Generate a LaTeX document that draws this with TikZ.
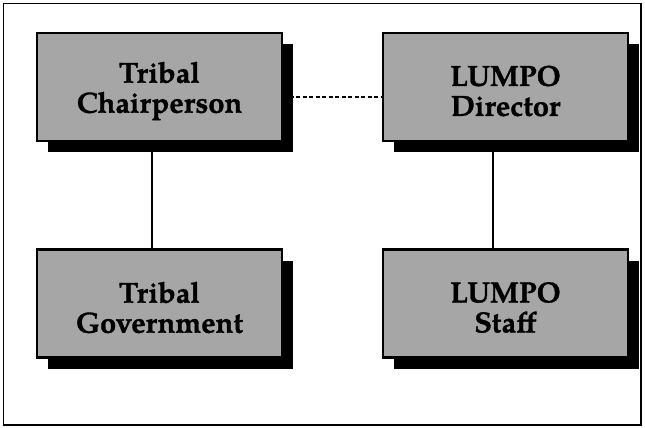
\documentclass[tikz,border=0pt]{standalone}
\usepackage{fontspec}
\setmainfont{texgyrepagella}[Extension=.otf, UprightFont=*-regular, BoldFont=*-bold,
  BoldFeatures={FakeBold=1.2}]
\usetikzlibrary{shadows}
\begin{document}
\begin{tikzpicture}[x=1pt,y=-1pt,
  orgbox/.style={draw=black, line width=2.5pt, fill=black!35,
    minimum width=245pt, minimum height=108pt, inner sep=0pt,
    drop shadow={shadow xshift=11pt, shadow yshift=-11pt, fill=black, opacity=1}},
  boxtext/.style={align=center, inner sep=0pt, yshift=-4pt,
    font=\bfseries\fontsize{29}{30}\selectfont},
  link/.style={line width=2pt},
  dotlink/.style={line width=2pt, dash pattern=on 4pt off 2.5pt}]
\useasboundingbox (0,0) rectangle (645,428);
% outer frame
\draw[line width=1.5pt] (3.5,3.5) rectangle (641,425);
% boxes
\node[orgbox] (chair) at (159.5,87) {};
\node[orgbox] (dir)   at (505.5,87) {};
\node[orgbox] (gov)   at (159.5,303.5) {};
\node[orgbox] (staff) at (505.5,303.5) {};
% box labels
\node[boxtext] (chairtxt) at (chair.center) {Tribal\\Chairperson};
\node[boxtext] (dirtxt)   at (dir.center)   {LUMPO\\Director};
\node[boxtext] (govtxt)   at (gov.center)   {Tribal\\Government};
\node[boxtext] (stafftxt) at (staff.center) {LUMPO\\Staff};
% connector columns and the dotted link's height
\coordinate (lx) at (152,0);
\coordinate (rx) at (493,0);
\coordinate (dy) at (0,97);
\draw[link] (chair.south -| lx) -- (gov.north -| lx);
\draw[link] (dir.south -| rx) -- (staff.north -| rx);
\draw[dotlink] (chair.east |- dy) -- (dir.west |- dy);
\end{tikzpicture}
\end{document}
